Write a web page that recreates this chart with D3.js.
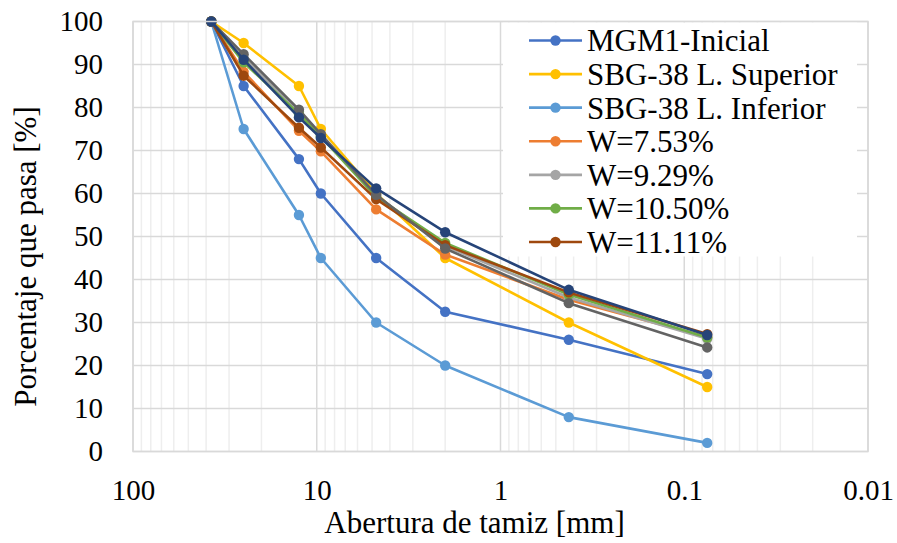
<!DOCTYPE html>
<html>
<head>
<meta charset="utf-8">
<script src="https://cdn.jsdelivr.net/npm/d3@7"></script>
<style>
    body { margin: 0; background: #fff; }
    svg { display: block; }
</style>
</head>
<body>
<div id="graph_container"></div>
<script>
// Abertura de tamiz [mm]
let sizes = [37.5, 25, 12.5, 9.5, 4.75, 2, 0.425, 0.075];

// Porcentaje que pasa [%]
let mgm1    = [100, 85, 68, 60, 45, 32.5, 26, 18];
let sbgSup  = [100, 95, 85, 75, 60, 45, 30, 15];
let sbgInf  = [100, 75, 55, 45, 30, 20, 8, 2];
let w753    = [100, 88.3, 74.6, 69.8, 56.3, 45.8, 35.3, 26.6];
let w929    = [100, 91.5, 79, 73.5, 59.5, 47.8, 35.8, 26.2];
let w1050   = [100, 90.5, 78.5, 73.2, 59.2, 48.5, 36.5, 26.5];
let w1111   = [100, 87.4, 75.3, 70.7, 58.7, 48.0, 37.0, 27.3];
let serie8  = [100, 92.4, 79.5, 73.8, 59.7, 47.2, 34.5, 24.2];
let serie9  = [100, 91.1, 77.7, 72.9, 61.2, 51.0, 37.6, 27.1];

let names  = ["MGM1-Inicial", "SBG-38 L. Superior", "SBG-38 L. Inferior", "W=7.53%", "W=9.29%", "W=10.50%", "W=11.11%", "", ""];
let colors = ["#4472C4", "#FFC000", "#5B9BD5", "#ED7D31", "#A5A5A5", "#70AD47", "#9E480E", "#636363", "#264478"];
let allSeries = [mgm1, sbgSup, sbgInf, w753, w929, w1050, w1111, serie8, serie9];

let xTicks = [100, 10, 1, 0.1, 0.01];
let yTicks = [0, 10, 20, 30, 40, 50, 60, 70, 80, 90, 100];

let FONT = "Liberation Serif, DejaVu Serif";

let svgWidth = 897;
let svgHeight = 543;
let plotLeft = 133, plotRight = 868, plotTop = 21.5, plotBottom = 451.5;

let svg = d3.select("#graph_container").append("svg")
    .attr("width", svgWidth)
    .attr("height", svgHeight);

let x = d3.scaleLog().domain([100, 0.01]).range([plotLeft, plotRight]);
let y = d3.scaleLinear().domain([0, 100]).range([plotBottom, plotTop]);

// minor grid (2..9 of each decade)
let minor = [];
for (let d = 0.01; d < 100; d *= 10) {
    for (let k = 2; k <= 9; k++) minor.push(+(d * k).toPrecision(3));
}
svg.append("g").selectAll("line")
    .data(minor)
    .enter()
    .append("line")
    .attr("x1", d => x(d)).attr("x2", d => x(d))
    .attr("y1", plotTop).attr("y2", plotBottom)
    .attr("stroke", "#eeeeee")
    .attr("stroke-width", 1.5);

// major grid
svg.append("g").selectAll("line")
    .data(yTicks)
    .enter()
    .append("line")
    .attr("x1", plotLeft).attr("x2", plotRight)
    .attr("y1", d => y(d)).attr("y2", d => y(d))
    .attr("stroke", "#d9d9d9")
    .attr("stroke-width", 1.5);

svg.append("g").selectAll("line")
    .data(xTicks)
    .enter()
    .append("line")
    .attr("x1", d => x(d)).attr("x2", d => x(d))
    .attr("y1", plotTop).attr("y2", plotBottom)
    .attr("stroke", "#d9d9d9")
    .attr("stroke-width", 1.5);

// legend background sits over the grid only
let legendBg = svg.append("rect")
    .attr("x", 503).attr("y", plotTop + 1)
    .attr("width", 354).attr("height", 234)
    .attr("fill", "#fff");

// axes (labels only, Excel style)
let xAxis = svg.append("g")
    .attr("transform", "translate(0," + plotBottom + ")")
    .call(d3.axisBottom(x).tickValues(xTicks).tickSize(0).tickPadding(28).tickFormat(d => String(d)));
xAxis.attr("font-family", FONT).attr("font-size", 29);
xAxis.select(".domain").remove();
xAxis.selectAll("text").attr("fill", "#000");

let yAxis = svg.append("g")
    .attr("transform", "translate(" + plotLeft + ",0)")
    .call(d3.axisLeft(y).tickValues(yTicks).tickSize(0).tickPadding(30));
yAxis.attr("font-family", FONT).attr("font-size", 29);
yAxis.select(".domain").remove();
yAxis.selectAll("text").attr("fill", "#000");

// titles
svg.append("text")
    .attr("x", (plotLeft + plotRight) / 2 - 26)
    .attr("y", 533)
    .attr("text-anchor", "middle")
    .attr("font-size", 31)
    .attr("font-family", FONT)
    .text("Abertura de tamiz [mm]");

svg.append("text")
    .attr("transform", "translate(36," + ((plotTop + plotBottom) / 2 + 20) + ") rotate(-90)")
    .attr("text-anchor", "middle")
    .attr("font-size", 31)
    .attr("font-family", FONT)
    .text("Porcentaje que pasa [%]");

// series
let line = d3.line()
    .x((d, i) => x(sizes[i]))
    .y(d => y(d));

for (let s = 0; s < allSeries.length; s++) {
    let g = svg.append("g");
    g.append("path")
        .attr("d", line(allSeries[s]))
        .attr("fill", "none")
        .attr("stroke", colors[s])
        .attr("stroke-width", 2.6)
        .attr("stroke-linejoin", "round");
    g.selectAll("circle")
        .data(allSeries[s])
        .enter()
        .append("circle")
        .attr("cx", (d, i) => x(sizes[i]))
        .attr("cy", d => y(d))
        .attr("r", 5.2)
        .attr("fill", colors[s]);
}

// legend entries
let legend = svg.append("g");
let rowY = d3.scaleLinear().domain([0, 6]).range([40.5, 242]);
for (let s = 0; s < 7; s++) {
    let ry = rowY(s);
    legend.append("line")
        .attr("x1", 529).attr("x2", 582)
        .attr("y1", ry).attr("y2", ry)
        .attr("stroke", colors[s])
        .attr("stroke-width", 2.6);
    legend.append("circle")
        .attr("cx", 555.5).attr("cy", ry).attr("r", 5.2)
        .attr("fill", colors[s]);
    legend.append("text")
        .attr("x", 587).attr("y", ry)
        .attr("dy", "0.35em")
        .attr("font-size", 31)
        .attr("font-family", FONT)
        .text(names[s]);
}

// plot border
svg.append("rect")
    .attr("x", plotLeft).attr("y", plotTop)
    .attr("width", plotRight - plotLeft).attr("height", plotBottom - plotTop)
    .attr("fill", "none")
    .attr("stroke", "#d9d9d9")
    .attr("stroke-width", 1.5);
</script>
</body>
</html>
